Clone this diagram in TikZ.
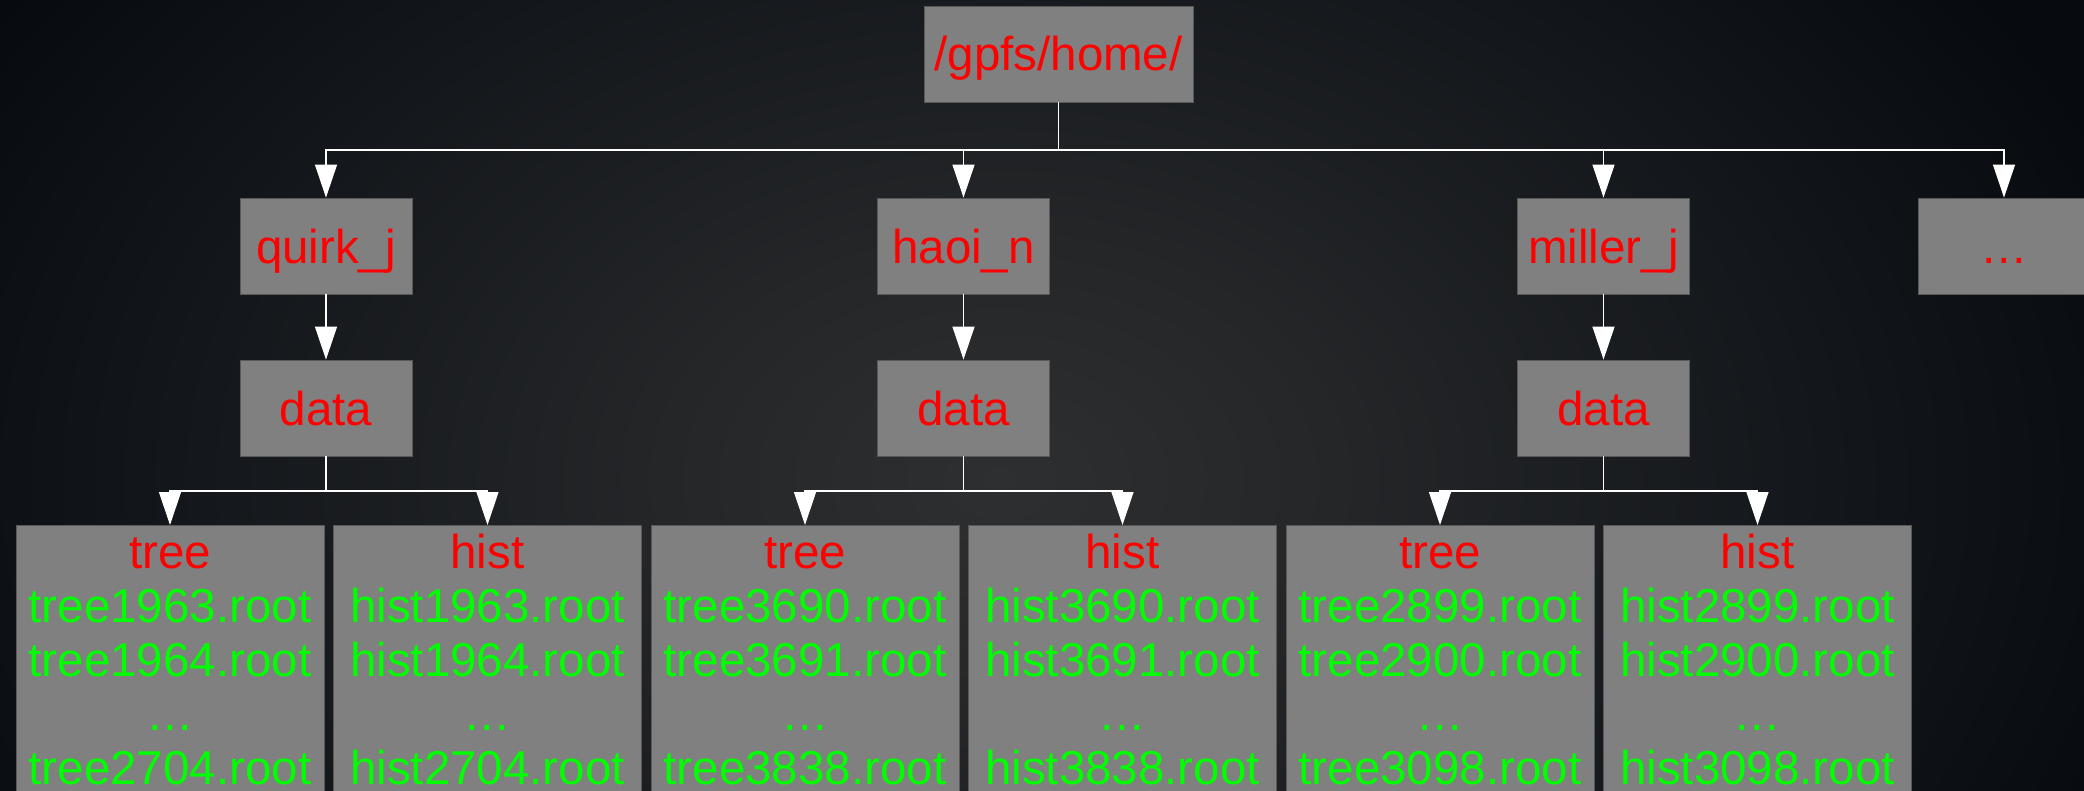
\documentclass[tikz,border=0pt]{standalone}
\usepackage{fontspec}
\setmainfont{Liberation Sans}
\usetikzlibrary{arrows.meta}
\definecolor{bgout}{RGB}{7,10,15}
\definecolor{glowa}{RGB}{36,38,40}
\definecolor{glowb}{RGB}{21,24,28}
\definecolor{glowin}{RGB}{46,47,49}
\definecolor{boxfill}{RGB}{128,128,128}
\definecolor{boxline}{RGB}{88,88,88}
\definecolor{txtred}{RGB}{255,0,0}
\definecolor{txtgreen}{RGB}{0,255,0}
\pgfdeclareradialshading{glow}{\pgfpointorigin}{color(0bp)=(glowin); color(7bp)=(glowa); color(16bp)=(glowb); color(25bp)=(bgout); color(50bp)=(bgout)}
\begin{document}
\begin{tikzpicture}[x=1bp,y=-1bp,
  dirbox/.style={draw=boxline, line width=0.8bp, fill=boxfill, text=txtred,
    minimum width=172bp, minimum height=96bp, inner sep=0pt,
    font=\fontsize{47.5bp}{54bp}\selectfont, text height=36bp, text depth=2bp},
  leafbox/.style={draw=boxline, line width=0.8bp, fill=boxfill, text=txtgreen,
    text width=308bp, align=center, inner sep=0pt, anchor=north,
    font=\fontsize{47.5bp}{54bp}\selectfont},
  bus/.style={draw=white, line width=1.2bp},
  conn/.style={draw=white, line width=1.2bp, -{Triangle[width=22bp,length=33bp]}}]
% background
\fill[bgout] (0,0) rectangle (2084,791);
\begin{scope}
  \clip (0,0) rectangle (2084,791);
  \shade[shading=glow] (-200,-370) rectangle (2200,1330);
\end{scope}
\useasboundingbox (0,0) rectangle (2084,791);
\begin{scope}
\clip (0,0) rectangle (2084,791);
% nodes
\node[dirbox, minimum width=269bp] (root) at (1058.5,54) {/gpfs/home/};
\node[dirbox] (quirk) at (326,246) {quirk\_j};
\node[dirbox] (haoi) at (963.5,246) {haoi\_n};
\node[dirbox] (miller) at (1603.5,246) {miller\_j};
\node[dirbox] (more) at (2004,246) {…};
\node[dirbox] (dq) at (326,408) {data};
\node[dirbox] (dh) at (963.5,408) {data};
\node[dirbox] (dm) at (1603.5,408) {data};
\node[leafbox] (tq) at (170,525) {\rule{0pt}{43bp}\textcolor{txtred}{tree}\\tree1963.root\\tree1964.root\\…\\tree2704.root\rule[-60bp]{0pt}{1bp}};
\node[leafbox] (hq) at (487.5,525) {\rule{0pt}{43bp}\textcolor{txtred}{hist}\\hist1963.root\\hist1964.root\\…\\hist2704.root\rule[-60bp]{0pt}{1bp}};
\node[leafbox] (th) at (805,525) {\rule{0pt}{43bp}\textcolor{txtred}{tree}\\tree3690.root\\tree3691.root\\…\\tree3838.root\rule[-60bp]{0pt}{1bp}};
\node[leafbox] (hh) at (1122.5,525) {\rule{0pt}{43bp}\textcolor{txtred}{hist}\\hist3690.root\\hist3691.root\\…\\hist3838.root\rule[-60bp]{0pt}{1bp}};
\node[leafbox] (tm) at (1440,525) {\rule{0pt}{43bp}\textcolor{txtred}{tree}\\tree2899.root\\tree2900.root\\…\\tree3098.root\rule[-60bp]{0pt}{1bp}};
\node[leafbox] (hm) at (1757.5,525) {\rule{0pt}{43bp}\textcolor{txtred}{hist}\\hist2899.root\\hist2900.root\\…\\hist3098.root\rule[-60bp]{0pt}{1bp}};
% connectors
\coordinate (rbus) at (1058.5,150);
\draw[bus] (root.south) -- (rbus);
\draw[conn] (rbus) -| (quirk.north);
\draw[conn] (rbus) -| (haoi.north);
\draw[conn] (rbus) -| (miller.north);
\draw[conn] (rbus) -| (more.north);
\draw[conn] (quirk.south) -- (dq.north);
\draw[conn] (haoi.south) -- (dh.north);
\draw[conn] (miller.south) -- (dm.north);
\coordinate (qbus) at (326,491);
\coordinate (hbus) at (963.5,491);
\coordinate (mbus) at (1603.5,491);
\draw[bus] (dq.south) -- (qbus);
\draw[bus] (dh.south) -- (hbus);
\draw[bus] (dm.south) -- (mbus);
\draw[conn] (qbus) -| (tq.north);
\draw[conn] (qbus) -| (hq.north);
\draw[conn] (hbus) -| (th.north);
\draw[conn] (hbus) -| (hh.north);
\draw[conn] (mbus) -| (tm.north);
\draw[conn] (mbus) -| (hm.north);
\end{scope}
\end{tikzpicture}
\end{document}
